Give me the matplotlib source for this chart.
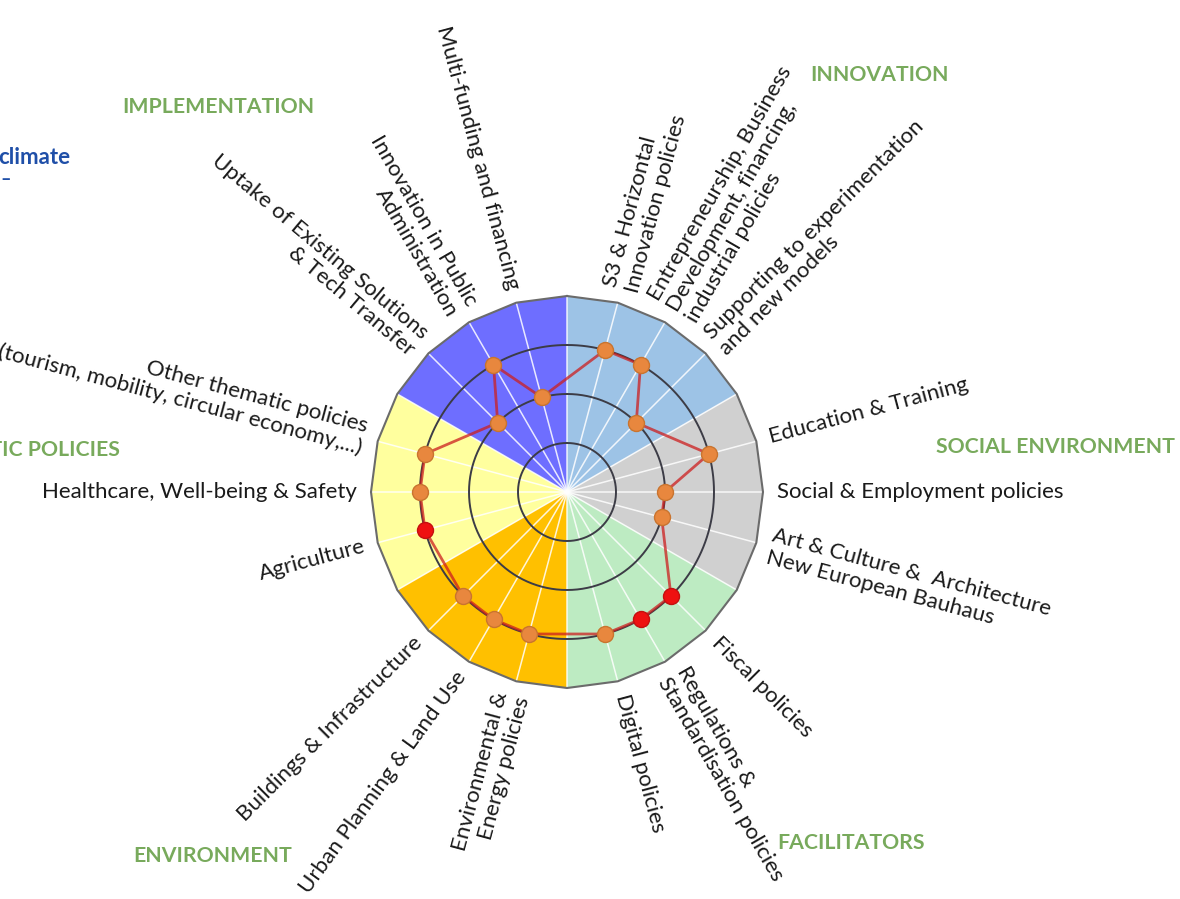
import numpy as np
import matplotlib
matplotlib.use("Agg")
import matplotlib.pyplot as plt

# ---------------- data ----------------
categories = [
    "S3 & Horizontal\nInnovation policies",
    "Entrepreneurship, Business\nDevelopment, financing,\nindustrial policies",
    "Supporting to experimentation\nand new models",
    "Education & Training",
    "Social & Employment policies",
    "Art & Culture &  Architecture\nNew European Bauhaus",
    "Fiscal policies",
    "Regulations &\nStandardisation policies",
    "Digital policies",
    "Environmental &\nEnergy policies",
    "Urban Planning & Land Use",
    "Buildings & Infrastructure",
    "Agriculture",
    "Healthcare, Well-being & Safety",
    "Other thematic policies\n(tourism, mobility, circular economy,...)",
    "Uptake of Existing Solutions\n& Tech Transfer",
    "Innovation in Public\nAdministration",
    "Multi-funding and financing",
]
values = [3, 3, 2, 3, 2, 2, 3, 3, 3, 3, 3, 3, 3, 3, 3, 2, 3, 2]
highlight = [0, 0, 0, 0, 0, 0, 1, 1, 0, 0, 0, 0, 1, 0, 0, 0, 0, 0]
groups = ["INNOVATION", "SOCIAL ENVIRONMENT", "FACILITATORS",
          "ENVIRONMENT", "THEMATIC POLICIES", "IMPLEMENTATION"]
group_colors = ["#9DC3E6", "#D0D0D0", "#BDEBC2", "#FFC000", "#FFFF9E", "#6E6EFF"]
ring_levels = [1, 2, 3]
r_max = 4

# ---------------- layout ----------------
W, H = 1180, 899
cx, cy = 567, 492          # centre in pixels (from top-left)
ppu = 49.0                 # pixels per unit

plt.rcParams["font.family"] = ["Lato", "DejaVu Sans"]
fig = plt.figure(figsize=(W / 100, H / 100), dpi=100)
ax = fig.add_axes([0, 0, 1, 1])
ax.set_xlim(-cx / ppu, (W - cx) / ppu)
ax.set_ylim(-(H - cy) / ppu, cy / ppu)
ax.axis("off")

slots_per_group = 4
n_groups = len(groups)
step = 360.0 / (n_groups * slots_per_group)   # 15 degrees


def xy(theta_deg, r):
    t = np.radians(theta_deg)
    return r * np.sin(t), r * np.cos(t)


# sectors (outer boundary is a 24-gon)
for g, col in enumerate(group_colors):
    th = np.arange(g * 60, g * 60 + 60 + 0.1, step)
    px, py = xy(th, r_max)
    ax.fill(np.r_[0, px], np.r_[0, py], color=col, lw=0, zorder=1)

# white spokes
for th in np.arange(0, 360, step):
    px, py = xy(th, r_max)
    ax.plot([0, px], [0, py], color="white", lw=1.1, alpha=0.85, zorder=2)

# rings
tt = np.linspace(0, 360, 361)
for lv in ring_levels:
    px, py = xy(tt, lv)
    ax.plot(px, py, color="#3c3c46", lw=1.4, zorder=3)

# outer polygon
th = np.arange(0, 360 + 0.1, step)
px, py = xy(th, r_max)
ax.plot(px, py, color="#6b6b6b", lw=1.5, zorder=3)

# data
angles = np.array([60 * (i // 3) + step * (i % 3 + 1) for i in range(len(categories))])
vals = np.array(values, dtype=float)
lx, ly = xy(np.r_[angles, angles[0]], np.r_[vals, vals[0]])
ax.plot(lx, ly, color="#cc1f1f", lw=2.0, alpha=0.75, zorder=4)
for a, v, h in zip(angles, vals, highlight):
    mx, my = xy(a, v)
    if h:
        ax.plot(mx, my, "o", ms=11.5, mfc="#ee1111", mec="#c41010", mew=1.0, zorder=5)
    else:
        ax.plot(mx, my, "o", ms=11.5, mfc="#E8873E", mec="#c9742f", mew=1.0, zorder=5)

# category labels (hand-placed text boxes are slightly off radial in the original)
lab_r = 4.28
rot_adjust = {10: -6, 15: 5}
for i, (a, lab) in enumerate(zip(angles, categories)):
    tx, ty = xy(a, lab_r)
    phi = 90 - a
    if a < 180:
        rot, ha = phi, "left"
    else:
        rot, ha = phi + 180, "right"
    rot += rot_adjust.get(i, 0)
    ax.text(tx, ty, lab, rotation=rot, rotation_mode="anchor", ha=ha, va="center",
            fontsize=16, color="#1a1a1a", linespacing=1.12, zorder=6)

# group titles (pixel positions)
gcol = "#78aa5c"
title_pos = {
    "INNOVATION": (879, 75, "center"),
    "SOCIAL ENVIRONMENT": (936, 447, "left"),
    "FACILITATORS": (851, 843, "center"),
    "ENVIRONMENT": (213, 856, "center"),
    "THEMATIC POLICIES": (120, 450, "right"),
    "IMPLEMENTATION": (218, 107, "center"),
}
for gname in groups:
    px_, py_, ha = title_pos[gname]
    fig.text(px_ / W, 1 - py_ / H, gname, ha=ha, va="center", fontsize=15.3,
             fontweight="bold", color=gcol)

# remnant slide text
fig.text(-2 / W, 1 - 158 / H, "climate", ha="left", va="center", fontsize=16,
         fontweight="bold", color="#1f4fa8")
fig.text(0 / W, 1 - 180 / H, "–", ha="left", va="center", fontsize=13,
         fontweight="bold", color="#1f4fa8")

fig.savefig("out.png", dpi=100)
